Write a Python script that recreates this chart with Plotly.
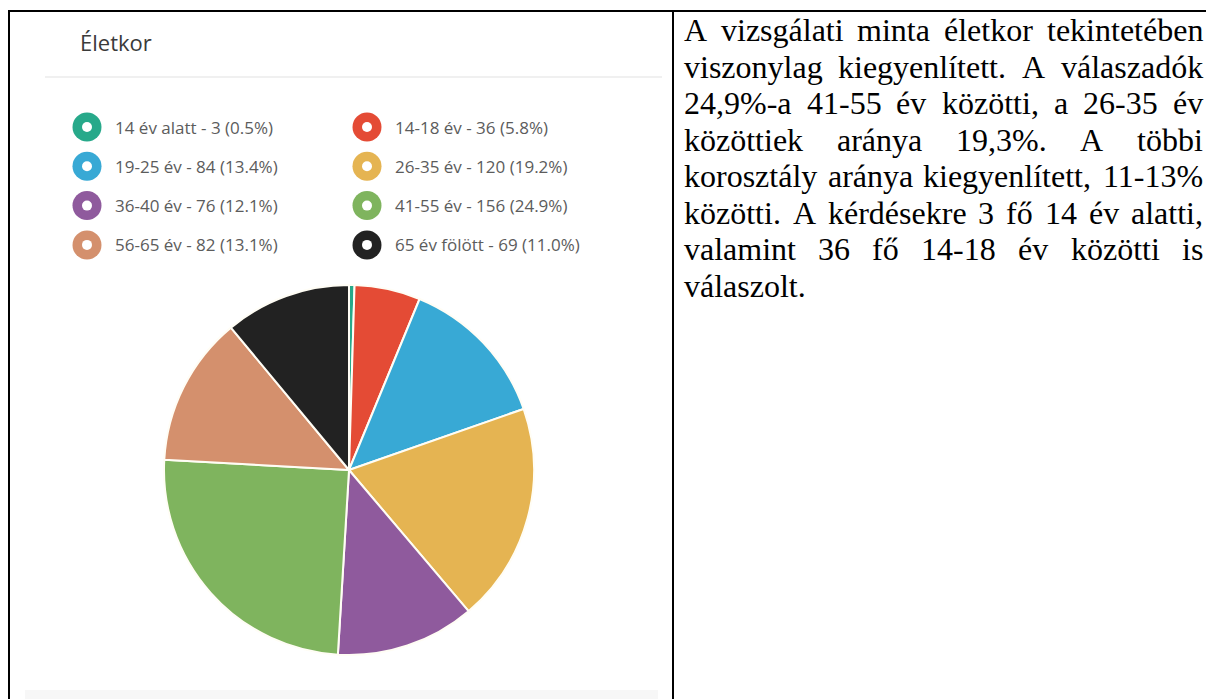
import plotly.graph_objects as go

# ---------------- data ----------------
categories = ["14 év alatt", "14-18 év", "19-25 év", "26-35 év",
              "36-40 év", "41-55 év", "56-65 év", "65 év fölött"]
counts = [3, 36, 84, 120, 76, 156, 82, 69]
colors = ["#27a98a", "#e44b35", "#38a9d5", "#e5b452",
          "#8f5a9d", "#7fb45e", "#d4906d", "#222222"]
chart_title = "Életkor"
paragraph_lines = [
    "A vizsgálati minta életkor tekintetében",
    "viszonylag kiegyenlített. A válaszadók",
    "24,9%-a 41-55 év közötti, a 26-35 év",
    "közöttiek aránya 19,3%. A többi",
    "korosztály aránya kiegyenlített, 11-13%",
    "közötti. A kérdésekre 3 fő 14 év alatti,",
    "valamint 36 fő 14-18 év közötti is",
    "válaszolt.",
]

# ---------------- layout helpers ----------------
W, H = 1206, 699
total = sum(counts)
legend_labels = [f"{c} - {v} ({100 * v / total:.1f}%)" for c, v in zip(categories, counts)]

# Times New Roman advance widths (1/1000 em) for justification
TW = {' ': 250, 'A': 722, 'a': 444, 'á': 444, 'b': 500, 'c': 444, 'd': 500, 'e': 444,
      'é': 444, 'f': 333, 'g': 500, 'h': 500, 'i': 278, 'í': 278, 'j': 278, 'k': 500,
      'l': 278, 'm': 778, 'n': 500, 'o': 500, 'ó': 500, 'ö': 500, 'ő': 500, 'p': 500,
      'r': 333, 's': 389, 't': 278, 'u': 500, 'v': 500, 'y': 500, 'z': 444,
      ',': 250, '.': 250, '-': 333, '%': 833}
for d in "0123456789":
    TW[d] = 500


def word_w(word, fs):
    return sum(TW.get(ch, 500) for ch in word) * fs / 1000.0


fig = go.Figure()

# pie
fig.add_trace(go.Pie(
    values=counts, labels=categories,
    marker=dict(colors=colors, line=dict(color="#fffdf5", width=2)),
    sort=False, direction="clockwise", rotation=0,
    textinfo="none", showlegend=False,
    domain=dict(x=[164 / W, 534 / W], y=[1 - 655 / H, 1 - 285 / H]),
))

# legend rings (grid positions)
lx = [87 + (i % 2) * 280 for i in range(len(categories))]
ly = [127 + (i // 2) * 39.3 for i in range(len(categories))]
fig.add_trace(go.Scatter(x=lx, y=ly, mode="markers",
                         marker=dict(size=29, color=colors, line=dict(width=0)),
                         hoverinfo="skip", showlegend=False))
fig.add_trace(go.Scatter(x=lx, y=ly, mode="markers",
                         marker=dict(size=10, color="white", line=dict(width=0)),
                         hoverinfo="skip", showlegend=False))

annotations = []
annotations.append(dict(x=80, y=42, xref="x", yref="y", text=chart_title, showarrow=False,
                        xanchor="left", yanchor="middle", borderpad=0, borderwidth=0,
                        font=dict(family="Open Sans", size=22, color="#3a3a3a")))
for x, y, lab in zip(lx, ly, legend_labels):
    annotations.append(dict(x=x + 28, y=y, xref="x", yref="y", text=lab, showarrow=False,
                            xanchor="left", yanchor="middle", borderpad=0, borderwidth=0,
                            font=dict(family="Open Sans", size=17, color="#5c5c5c")))

# justified paragraph
fs = 32
x0, x1 = 684, 1203
serif = "Times New Roman, Liberation Serif, serif"
for i, line in enumerate(paragraph_lines):
    y = 30 + 36.5 * i
    words = line.split(" ")
    if i == len(paragraph_lines) - 1 or len(words) == 1:
        annotations.append(dict(x=x0, y=y, xref="x", yref="y", text=line, showarrow=False,
                                xanchor="left", yanchor="middle", borderpad=0, borderwidth=0,
                                font=dict(family=serif, size=fs, color="black")))
        continue
    widths = [word_w(w, fs) for w in words]
    gap = ((x1 - x0) - sum(widths)) / (len(words) - 1)
    cx = x0
    for j, (w, ww) in enumerate(zip(words, widths)):
        if j == len(words) - 1:
            annotations.append(dict(x=x1, y=y, xref="x", yref="y", text=w, showarrow=False,
                                    xanchor="right", yanchor="middle", borderpad=0, borderwidth=0,
                                    font=dict(family=serif, size=fs, color="black")))
        else:
            annotations.append(dict(x=cx, y=y, xref="x", yref="y", text=w, showarrow=False,
                                    xanchor="left", yanchor="middle", borderpad=0, borderwidth=0,
                                    font=dict(family=serif, size=fs, color="black")))
        cx += ww + gap

shapes = [
    # faint screenshot details
    dict(type="line", xref="x", yref="y", x0=45, x1=662, y0=77, y1=77,
         line=dict(color="#f0f0f0", width=2), layer="below"),
    dict(type="rect", xref="x", yref="y", x0=25, x1=658, y0=690, y1=699,
         fillcolor="#f7f7f7", line=dict(width=0), layer="below"),
    # table borders
    dict(type="line", xref="x", yref="y", x0=8, x1=W, y0=11, y1=11,
         line=dict(color="black", width=2)),
    dict(type="line", xref="x", yref="y", x0=9, x1=9, y0=10, y1=H,
         line=dict(color="black", width=2)),
    dict(type="line", xref="x", yref="y", x0=673, x1=673, y0=10, y1=H,
         line=dict(color="black", width=2)),
]

fig.update_layout(
    width=W, height=H,
    margin=dict(l=0, r=0, t=0, b=0),
    paper_bgcolor="white", plot_bgcolor="rgba(0,0,0,0)",
    xaxis=dict(range=[0, W], visible=False, fixedrange=True, domain=[0, 1]),
    yaxis=dict(range=[H, 0], visible=False, fixedrange=True, domain=[0, 1]),
    annotations=annotations, shapes=shapes,
    showlegend=False,
)

fig.write_html("out.html",
               config={"displayModeBar": False},
               post_script="document.body.style.margin='0px';"
                           "document.body.style.overflow='hidden';")
